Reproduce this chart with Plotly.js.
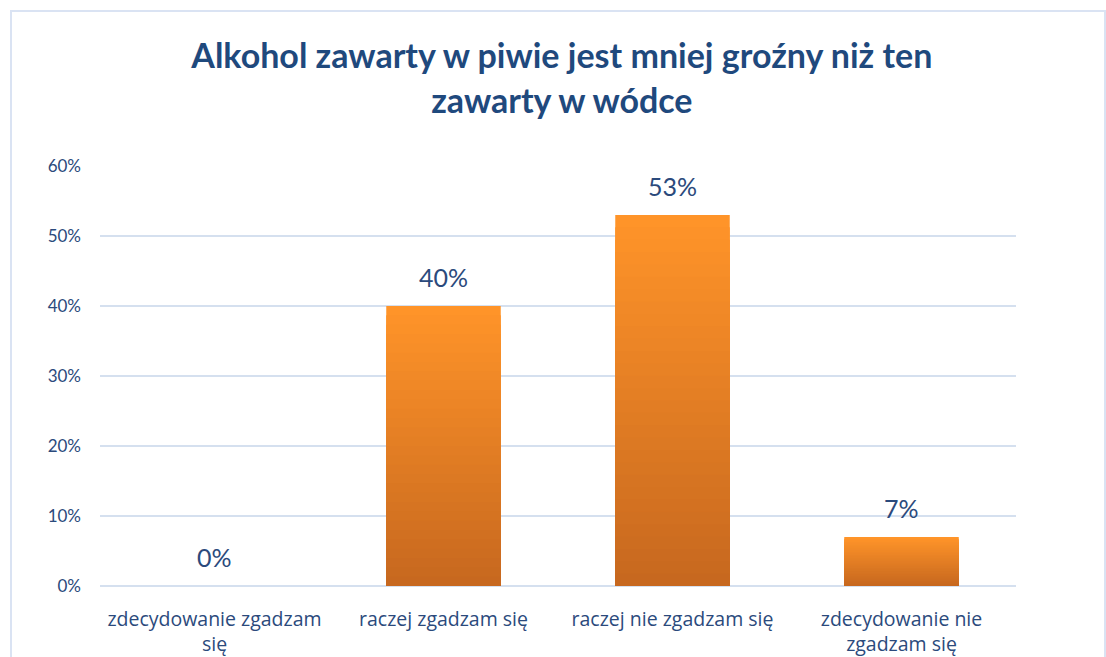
<!DOCTYPE html>
<html><head><meta charset="utf-8">
<script src="https://cdn.plot.ly/plotly-3.0.1.min.js"></script>
<style>
html,body{margin:0;padding:0;background:#fff;}
#wrap{position:relative;width:1106px;height:657px;}
#chart{width:1106px;height:657px;}
#frame{position:absolute;left:10px;top:10px;width:1096px;height:660px;border:2px solid #dae3f3;box-sizing:border-box;pointer-events:none;}
</style></head>
<body>
<div id="wrap"><div id="chart"></div><div id="frame"></div></div>
<script>
const categories = ["zdecydowanie zgadzam<br>się", "raczej zgadzam się", "raczej nie zgadzam się", "zdecydowanie nie<br>zgadzam się"];
const values = [0, 0.40, 0.53, 0.07];
const labels = ["0%", "40%", "53%", "7%"];
const yTicks = [0, 0.1, 0.2, 0.3, 0.4, 0.5, 0.6];
const yTickText = ["0%", "10%", "20%", "30%", "40%", "50%", "60%"];

// vertical gradient emulated by overlaid bars, light (top) -> dark (bottom)
const topC = [255, 148, 41], botC = [199, 104, 31];
const N = 30;
const traces = [];
for (let k = N; k >= 1; k--) {
  const t = (k - 1) / (N - 1);
  const c = topC.map((v, i) => Math.round(botC[i] + (v - botC[i]) * t));
  traces.push({
    type: 'bar', x: categories, y: values.map(v => v * k / N),
    marker: {color: 'rgb(' + c.join(',') + ')', line: {width: 0}},
    hoverinfo: 'skip', showlegend: false
  });
}
const annotations = categories.map((c, i) => ({
  x: c, y: values[i], xref: 'x', yref: 'y', text: labels[i], showarrow: false,
  yanchor: 'bottom', yshift: 12, font: {family: 'Lato, sans-serif', size: 25, color: '#2b4a7c'}
}));
const layout = {
  width: 1106, height: 657, barmode: 'overlay', bargap: 0.5,
  margin: {l: 100, r: 90, t: 166, b: 71},
  paper_bgcolor: '#fff', plot_bgcolor: '#fff',
  title: {text: 'Alkohol zawarty w piwie jest mniej groźny niż ten<br>zawarty w wódce',
    font: {family: 'Lato, sans-serif', size: 34, color: '#1f497d', weight: 'bold'},
    x: 0.508, xanchor: 'center', yref: 'container', y: 0.896, yanchor: 'middle'},
  xaxis: {type: 'category', showgrid: false, showline: false, zeroline: false, ticks: '',
    tickfont: {family: 'Open Sans, sans-serif', size: 19.5, color: '#2b4a7c'}, ticklabelstandoff: 19, fixedrange: true},
  yaxis: {range: [0, 0.6], tickvals: yTicks, ticktext: yTickText, showgrid: true, gridcolor: '#d5e0ef', gridwidth: 1.5,
    zeroline: true, zerolinecolor: '#d5e0ef', zerolinewidth: 2, showline: false, ticks: '',
    tickfont: {family: 'Lato, sans-serif', size: 17, color: '#2b4a7c'}, ticklabelstandoff: 18, fixedrange: true},
  annotations: annotations
};
Plotly.newPlot('chart', traces, layout, {displayModeBar: false, staticPlot: true});
</script>
</body></html>
